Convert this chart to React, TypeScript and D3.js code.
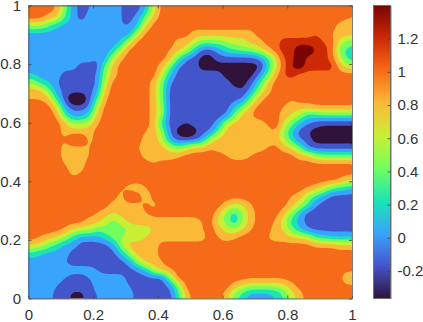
import * as d3 from "d3";
import { useEffect, useRef } from "react";

const width = 423;
const height = 322;
const margin = { left: 28.5, right: 352, top: 5.5, bottom: 298.5 };
const bar = { left: 373.5, right: 390.5 };

const xTicks = [0, 0.2, 0.4, 0.6, 0.8, 1];
const yTicks = [0, 0.2, 0.4, 0.6, 0.8, 1];
const barTicks = [-0.2, 0, 0.2, 0.4, 0.6, 0.8, 1, 1.2];

const zMin = -0.366;
const zMax = 1.4;
const bandColors = [
  "#30123B", "#4355CB", "#39A4FB", "#1AE4B6", "#72FE5E",
  "#C8EF34", "#FBB938", "#F66B19", "#CB2A04", "#7A0403",
];

// in units of colour band (0 = darkest, 9 = dark red), top row first
const gridCols = 40;
const gridRows = 36;
const bandGrid = [
  [7,7,7,6.5,4, 2,1,1.5,2,2, 2,1.5,1,1,2.5, 5,7,7,7,7, 7,7,7,7,7, 7,7,7,7,7, 7,7,7,7,7, 7,7,7,7,7],
  [7,7,6,5.5,3.5, 2,1,2,2,2, 2,1.5,1,2,4, 6,7,7,7,7, 7,7,7,7,7, 7,7,7,7,7, 7,7,7,7,7, 7,7,7,7,6.5],
  [4.5,4.5,3.5,2.5,2, 2,2,2,2,2, 2,1.5,1.5,2.5,5.5, 7,7,7,7,7, 7,7,7,7,7, 7,7,7,7,7, 7,7,7,7,7, 7,7,7,6,6],
  [2,2,2,2,2, 2,2,2,2,2, 2,2,2,5,7, 7,7,7,7,7, 6,6,6,6,6, 6,6,6,7,7, 7,7,7,7,7, 7.5,7,6.5,6,6],
  [2,2,2,2,2, 2,2,2,2,2, 2,2.5,5,7,7, 7,7,7,6,6, 5,4,4,4,4.5, 5,5,6,6,7, 7,8,8,8,8, 8,7.5,7,5,4],
  [2,2,2,2,2, 2,2,2,2,2, 2.5,5,7,7,7, 7,7,6.5,6,5, 3,1,1,2,3, 3.5,4,4,5,6, 7,8,8,9.5,9.5, 8.5,8,7,4,3],
  [2,2,2,2,2, 2,2,2,1.5,2, 5,6.5,7,7,7, 7,7,6,3.5,1.5, 1,0,0,1,1, 1,1,1,1.5,3, 5,7.5,8,9.5,8, 8,8,7,5,3],
  [2,2,2,2,2, 2,1,1,1,4, 6,7,7,7,7, 7,6,4,1.5,1, 1,0,0,0,0, 0,0,0,0,2.5, 5,7,8.5,9.5,8, 8,8,8,6,5],
  [2.5,2,2,2,1, 1,1,1,1.5,4.5, 6,7,7,7,7, 7,5,2.5,1,1, 1,1,1,1,0, 0,0,0,1.5,3.5, 6,7.5,8,7,7, 7,7,7,7,7],
  [4.5,3,2.5,1.5,1, 1,1,1,1.5,5, 7,7,7,7,7, 6,4,1.5,1,1, 1,1,1,1,1, 0,0,1,3,5.5, 7,7,7,7,7, 7,7,7,7,7],
  [6,6,4,2,1, 1,1,1,2,6, 7,7,7,7,7, 6,4,1,1,1, 1,1,1,1,1, 1,0.5,2,4.5,6, 7,7,7,7,7, 7,7,7,7,7],
  [6.5,6.5,6,3,1, -1,-1,1,3.5,6.5, 7,7,7,7,7, 6,4,1,1,1, 1,1,1,1,1, 1,1.5,4,6,7, 7,7,6.5,7,7, 7,7,7,7,7],
  [7,7,7,5.5,2, 1,1,1.5,5,7, 7,7,7,7,7, 6,4.5,1,1,1, 1,1,1,1,1, 2.5,4,6,7,7, 7,6.5,6,6,6, 6.5,6.5,6.5,6.5,6.5],
  [7,7,7,6.5,3.5, 2,2,3,6,7, 7,7,7,7,7, 6,4.5,1,1,1, 1,1,1,1,1.5, 4,6,6.5,7,7, 7,6,5.5,4.5,3, 3,3.5,3.5,3.5,3.5],
  [7,7,7,7,6, 4.5,4.5,5,6.5,7, 7,7,7,7,7, 6,3,1,1,0.5, 1,1,1,2,5, 6,6,6,6,6.5, 7.5,5.5,4,2.5,1.5, 1,0.5,0.5,0.5,0.5],
  [7,7,7,7,6, 6,6,6,7,7, 7,7,7,7,6.5, 6,4.5,1.5,0,-1, 0,1,1.5,4,6, 6,6,6,6,6, 6.5,4.5,2.5,1,0.5, 0,0,0,0,0],
  [7,7,7,7,6.5, 8,8,6,7,7, 7,7,7,7,6, 6,5,2,1,1, 1,2,5,6,6, 6,6,6,6,6, 6,5,3,1.5,1, 0,0,0,0,0],
  [7,7,7,7,6, 6,6,6.5,7,7, 7,7,7,6.5,6, 6,6,5,4,5, 6,6,6.5,6,6, 6,6,6,6,6.5, 7,6,5.5,4,1.5, 1,1,1,1,1],
  [7,7,7,7,6, 6,6,6.5,7,7, 7,7,7,7,6, 6,6,6,6.5,7, 7,7,7,7,6.5, 6,6,6.5,7,7, 7,7,7,6,6, 4.5,4,4,4,4],
  [7,7,7,7,6.5, 6,6,7,7,7, 7,7,7,7,7, 6.5,7,7,7,7, 7,7,7,7,7, 7,7,7,7,7, 7,7,7,7,7, 7,7,7,7,7],
  [7,7,7,7,7, 6,6.5,7,7,7, 7,7,7,7,7, 7,7,7,7,7, 7,7,7,7,7, 7,7,7,7,7, 7,7,7,7,7, 7,7,7,7,7],
  [7,7,7,7,7, 7,7,7,7,7, 7,7,7,7,7, 7,7,7,7,7, 7,7,7,7,7, 7,7,7,7,7, 7,7,7,7,7, 7,7,7,6.5,5.5],
  [7,7,7,7,7, 7,7,7,7,7, 7,6.5,6,5.5,6.5, 7,7,7,7,7, 7,7,7,7,7, 7,7,7,7,7, 7,7,7,7,6.5, 6,5,3.5,3,2.5],
  [7,7,7,7,7, 7,7,7,7,7, 7,6,8,7.5,5.5, 7,7,7,7,7, 7,7,7,7,7, 7,7,7,7,7, 7,7,6.5,6,4.5, 3,2,1,1,1],
  [7,7,7,7,7, 7,7,7,7,7, 6,6,6,6,7, 6,7,7,7,7, 7,7,7,7,6, 5,5.5,6.5,7,7, 7,7,6,5,3.5, 1.5,1,1,1,1],
  [7,7,7,7,7, 7,7,7,6.5,6, 5.5,6,6,6,6.5, 7,7,7,7,7, 7,7,7,6,4, 3,4.5,6,7,7, 7,6,4.5,2.5,1, 1,1,1,1,1],
  [7,7,7,7,7, 7,7,6,6,5, 4,5,6,6,6, 6,6,6,6,6, 6,6.5,7,5,4, 2.5,4.5,6,7,7, 6.5,5,3,2,1, 1,1,1,1,1],
  [7,7,7,7,6.5, 5.5,5,5,4,4, 4,4,4.5,5,5, 5.5,6,6,6,6, 6,6.5,7,6,5, 4.5,5.5,6.5,7,7, 6,5.5,4,2.5,1.5, 1,1,1,1,1],
  [7,6.5,6,5.5,4.5, 3,2,2,2,3, 4,4.5,5,5,5.5, 6,6,6,6,6, 6,6,7,6.5,6, 6.5,7,7,7,6.5, 6,6,5.5,5.5,5, 3.5,3,2.5,2.5,2.5],
  [5.5,5,4,3,2, 2,1,1,1,1, 2,4.5,6,6,6, 6,7,7,7,7, 7,7,7,7,7, 7,7,7,7,7, 7,7,7,7,7, 6.5,6.5,6.5,6,6],
  [3,2.5,2,2,2, 1,1,1,1,1, 1,2.5,4.5,6,6, 6,7,7,7,7, 7,7,7,7,7, 7,7,7,7,7, 7,7,7,7,7, 7,7,7,7,7],
  [2,2,2,2,1.5, 1,1,1,1,1, 1,1,2,4.5,6, 6,6.5,7,7,7, 7,7,7,7,7, 7,7,7,7,7, 7,7,7,7,7, 7,7,7,7,7],
  [2,2,2,2,2, 2,2,2,1.5,1, 1,1,1,1.5,2.5, 5,6,6.5,7,7, 7,7,7,7,7, 7,7,7,7,7, 7,7,7,7,7, 7,7,7,7,7],
  [2,2,2,2,1.5, 1,1,1.5,2,2, 2,2,1,1,1, 1,1,4,7,7, 7,7,7,7,7, 7,7,6.8,6.8,6.8, 6.8,6.8,7,7,7, 7,7,7,7,5],
  [2,2,2,1.5,1, 1,1,1,2,2, 2,2,1.5,1,1, 1,1,1.5,4,7, 7,7,7,7,7, 6,5,4.5,4.5,4.5, 4.5,5,6,7,7, 7,7,7,7,7],
  [2,2,2,1,1, 0.2,0.2,1,1.5,2, 2,2,2,1,1, 1,1,1,3,6, 7,7,7,7,6, 4,3,2,2,2, 2.5,3.5,5,6,7, 7,7,7,7,7],
];

const zStep = (zMax - zMin) / bandColors.length;
const tickText = (d: number) => String(+d.toFixed(1));

// the grid resampled 4x so the contours can be rounded without smearing the thin bands
const fine = 4;
const fineField = () => {
  const w = gridCols * fine;
  const h = gridRows * fine;
  const out = new Array(w * h);
  const at = (r: number, c: number) =>
    bandGrid[Math.max(0, Math.min(gridRows - 1, r))][Math.max(0, Math.min(gridCols - 1, c))];
  for (let j = 0; j < h; j++) {
    const v = (j + 0.5) / fine - 0.5;
    const r = Math.floor(v);
    for (let i = 0; i < w; i++) {
      const u = (i + 0.5) / fine - 0.5;
      const c = Math.floor(u);
      const top = d3.interpolateNumber(at(r, c), at(r, c + 1))(u - c);
      const bottom = d3.interpolateNumber(at(r + 1, c), at(r + 1, c + 1))(u - c);
      out[j * w + i] = zMin + (d3.interpolateNumber(top, bottom)(v - r) + 0.5) * zStep;
    }
  }
  d3.blur2({ data: out, width: w, height: h }, 1);
  return { values: out, w, h };
};

export default function App() {
  const ref = useRef<SVGSVGElement>(null);

  useEffect(() => {
    const svg = d3.select(ref.current);
    svg.selectAll("*").remove();

    const x = d3.scaleLinear().domain([0, 1]).range([margin.left, margin.right]);
    const y = d3.scaleLinear().domain([0, 1]).range([margin.bottom, margin.top]);
    const zY = d3.scaleLinear().domain([zMin, zMax]).range([margin.bottom, margin.top]);

    const { values, w, h } = fineField();
    const colX = d3.scaleLinear().domain([0, w]).range([margin.left, margin.right]);
    const rowY = d3.scaleLinear().domain([0, h]).range([margin.top, margin.bottom]);

    const thresholds = bandColors.slice(1).map((_, i) => zMin + (i + 1) * zStep);
    const contours = d3.contours().size([w, h]).thresholds(thresholds)(values);
    const path = d3.geoPath(
      d3.geoTransform({
        point(px, py) {
          this.stream.point(colX(px), rowY(py));
        },
      })
    );

    svg
      .append("rect")
      .attr("x", margin.left)
      .attr("y", margin.top)
      .attr("width", margin.right - margin.left)
      .attr("height", margin.bottom - margin.top)
      .attr("fill", bandColors[0]);

    svg
      .append("g")
      .selectAll("path")
      .data(contours)
      .enter()
      .append("path")
      .attr("d", (d) => path(d))
      .attr("fill", (_, i) => bandColors[i + 1]);

    // colorbar
    const defs = svg.append("defs");
    const gradient = defs
      .append("linearGradient")
      .attr("id", "barFill")
      .attr("x1", 0)
      .attr("x2", 0)
      .attr("y1", 1)
      .attr("y2", 0);
    bandColors.forEach((c, i) => {
      gradient
        .append("stop")
        .attr("offset", i / (bandColors.length - 1))
        .attr("stop-color", c);
    });
    svg
      .append("rect")
      .attr("x", bar.left)
      .attr("y", margin.top)
      .attr("width", bar.right - bar.left)
      .attr("height", margin.bottom - margin.top)
      .attr("fill", "url(#barFill)")
      .attr("stroke", "#666")
      .attr("stroke-width", 0.8);

    // axes
    const style = (g: any) => {
      g.select(".domain").attr("stroke", "#555").attr("stroke-width", 0.8);
      g.selectAll(".tick line").attr("stroke", "#444").attr("stroke-width", 0.8);
      g.selectAll("text")
        .attr("fill", "#333")
        .style("font-family", "'Liberation Sans', Arial, sans-serif")
        .style("font-size", "15px");
    };

    svg
      .append("g")
      .attr("transform", `translate(0,${margin.bottom})`)
      .call(d3.axisBottom(x).tickValues(xTicks).tickFormat(tickText as any).tickSizeInner(-3).tickSizeOuter(0).tickPadding(11))
      .call(style);
    svg
      .append("g")
      .attr("transform", `translate(0,${margin.top})`)
      .call(d3.axisTop(x).tickValues(xTicks).tickFormat(() => "").tickSizeInner(-3).tickSizeOuter(0))
      .call(style);
    svg
      .append("g")
      .attr("transform", `translate(${margin.left},0)`)
      .call(d3.axisLeft(y).tickValues(yTicks).tickFormat(tickText as any).tickSizeInner(-3).tickSizeOuter(0).tickPadding(7.5))
      .call(style);
    svg
      .append("g")
      .attr("transform", `translate(${margin.right},0)`)
      .call(d3.axisRight(y).tickValues(yTicks).tickFormat(() => "").tickSizeInner(-3).tickSizeOuter(0))
      .call(style);
    svg
      .append("g")
      .attr("transform", `translate(${bar.right},0)`)
      .call(d3.axisRight(zY).tickValues(barTicks).tickFormat(tickText as any).tickSizeInner(-3).tickSizeOuter(0).tickPadding(7))
      .call(style);
  }, []);

  return (
    <svg
      ref={ref}
      width={width}
      height={height}
      style={{ position: "absolute", left: 0, top: 0, background: "#fff" }}
    />
  );
}
